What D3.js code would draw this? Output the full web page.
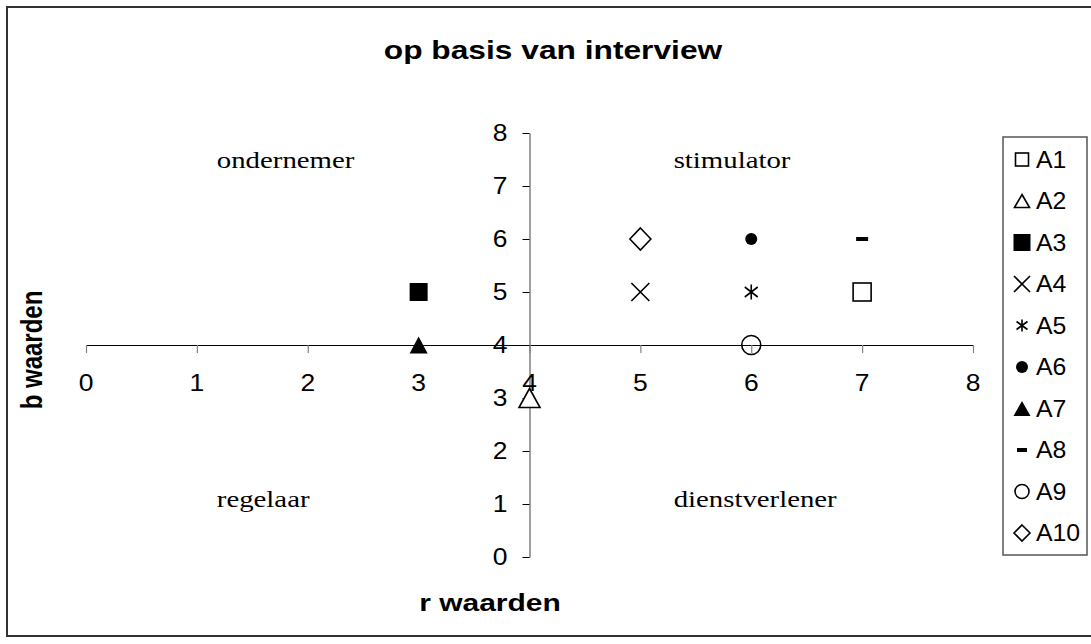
<!DOCTYPE html>
<html>
<head>
<meta charset="utf-8">
<script src="https://cdn.jsdelivr.net/npm/d3@7"></script>
<style>
  html, body { margin: 0; padding: 0; background: #fff; }
  svg { display: block; }
</style>
</head>
<body>
<svg id="chart" width="1091" height="644"></svg>
<script>
// ---- data ----
const seriesNames = ["A1", "A2", "A3", "A4", "A5", "A6", "A7", "A8", "A9", "A10"];
const rValues = [7, 4, 3, 5, 6, 6, 3, 7, 6, 5];
const bValues = [5, 3, 5, 5, 5, 6, 4, 6, 4, 6];
const xTicks = [0, 1, 2, 3, 4, 5, 6, 7, 8];
const yTicks = [0, 1, 2, 3, 4, 5, 6, 7, 8];
const quadrantNames = ["ondernemer", "stimulator", "regelaar", "dienstverlener"];
const titleText = "op basis van interview";
const xTitle = "r waarden";
const yTitle = "b waarden";

// ---- styles / layout ----
const markerTypes = ["squareOpen", "triangleOpen", "squareFilled", "x", "asterisk",
                     "dot", "triangleFilled", "dash", "circleOpen", "diamondOpen"];
const plotSizes = {
  squareOpen: [18, 18], triangleOpen: [21, 19], squareFilled: [18, 18], x: [18, 18],
  asterisk: [13, 15], dot: [12, 12], triangleFilled: [18, 17], dash: [12, 4],
  circleOpen: [19, 19], diamondOpen: [21, 22]
};
const legendSizes = {
  squareOpen: [13, 13], triangleOpen: [15, 13], squareFilled: [17, 17], x: [16, 16],
  asterisk: [11, 12], dot: [12, 12], triangleFilled: [17, 15], dash: [10, 4],
  circleOpen: [14, 14], diamondOpen: [16, 16]
};
const quadrantPos = [[1.18, 7.34], [5.3, 7.34], [1.18, 0.94], [5.3, 0.94]];
const SANS = "'Liberation Sans', Arial, sans-serif";
const SERIF = "'Liberation Serif', 'Times New Roman', serif";

const svg = d3.select("#chart");

// outer border
svg.append("rect").attr("x", 7).attr("y", 7).attr("width", 1100).attr("height", 629)
  .attr("fill", "#fff").attr("stroke", "#333").attr("stroke-width", 2);

const x = d3.scaleLinear().domain([0, 8]).range([86, 973]);
const y = d3.scaleLinear().domain([0, 8]).range([557, 133]);

function stretchedText(g, txt, px, py, opts) {
  const sx = opts.sx || 1;
  return g.append("text")
    .attr("transform", `translate(${px},${py}) scale(${sx},1)` + (opts.rotate ? ` rotate(${opts.rotate})` : ""))
    .attr("font-family", opts.family || SANS)
    .attr("font-size", opts.size)
    .attr("font-weight", opts.weight || "normal")
    .attr("text-anchor", opts.anchor || "start")
    .attr("fill", "#000")
    .text(txt);
}

// title
stretchedText(svg, titleText, 553, 59, { size: 26, weight: "bold", anchor: "middle", sx: 1.22 });

// x axis (crosses at b = 4)
const xAxisG = svg.append("g").attr("transform", `translate(0,${y(4)})`)
  .call(d3.axisBottom(x).tickValues(xTicks).tickSize(8).tickSizeOuter(0).tickFormat(""));
xAxisG.select(".domain").attr("stroke", "#000").attr("stroke-width", 1.2);
xAxisG.selectAll(".tick line").attr("stroke", "#808080").attr("stroke-width", 1.2);

// y axis (crosses at r = 4)
const yAxisG = svg.append("g").attr("transform", `translate(${x(4)},0)`)
  .call(d3.axisLeft(y).tickValues(yTicks).tickSize(7).tickSizeOuter(0).tickFormat(""));
yAxisG.select(".domain").attr("stroke", "#808080").attr("stroke-width", 1.5);
yAxisG.selectAll(".tick line").attr("stroke", "#000").attr("stroke-width", 1);

// tick labels
xTicks.forEach(v => {
  stretchedText(svg, d3.format("d")(v), x(v), y(4) + 46, { size: 23, anchor: "middle", sx: 1.15 });
});
yTicks.forEach(v => {
  stretchedText(svg, d3.format("d")(v), x(4) - 22, y(v) + 8, { size: 23, anchor: "end", sx: 1.15 });
});

// axis titles
stretchedText(svg, xTitle, 490, 611, { size: 24, weight: "bold", anchor: "middle", sx: 1.25 });
svg.append("text")
  .attr("transform", `translate(42,350) scale(1.25,1) rotate(-90)`)
  .attr("font-family", SANS).attr("font-size", 24).attr("font-weight", "bold")
  .attr("text-anchor", "middle").text(yTitle);

// quadrant labels
quadrantNames.forEach((name, i) => {
  stretchedText(svg, name, x(quadrantPos[i][0]), y(quadrantPos[i][1]),
    { size: 24, family: SERIF, sx: 1.2 });
});

// marker drawing
function drawMarker(g, type, size) {
  const [w, h] = size;
  const sw = 1.6;
  switch (type) {
    case "squareOpen":
      g.append("rect").attr("x", -w / 2).attr("y", -h / 2).attr("width", w).attr("height", h)
        .attr("fill", "#fff").attr("stroke", "#000").attr("stroke-width", sw);
      break;
    case "squareFilled":
      g.append("rect").attr("x", -w / 2).attr("y", -h / 2).attr("width", w).attr("height", h)
        .attr("fill", "#000");
      break;
    case "triangleOpen":
      g.append("path").attr("d", `M0,${-h / 2}L${w / 2},${h / 2}L${-w / 2},${h / 2}Z`)
        .attr("fill", "#fff").attr("stroke", "#000").attr("stroke-width", sw);
      break;
    case "triangleFilled":
      g.append("path").attr("d", `M0,${-h / 2}L${w / 2},${h / 2}L${-w / 2},${h / 2}Z`)
        .attr("fill", "#000");
      break;
    case "x":
      g.append("path").attr("d", `M${-w / 2},${-h / 2}L${w / 2},${h / 2}M${w / 2},${-h / 2}L${-w / 2},${h / 2}`)
        .attr("stroke", "#000").attr("stroke-width", sw).attr("fill", "none");
      break;
    case "asterisk":
      g.append("path").attr("d", `M0,${-h / 2}L0,${h / 2}M${-w / 2},${-h / 3}L${w / 2},${h / 3}M${w / 2},${-h / 3}L${-w / 2},${h / 3}`)
        .attr("stroke", "#000").attr("stroke-width", sw).attr("fill", "none");
      break;
    case "dot":
      g.append("circle").attr("r", w / 2).attr("fill", "#000");
      break;
    case "dash":
      g.append("rect").attr("x", -w / 2).attr("y", -h / 2).attr("width", w).attr("height", h)
        .attr("fill", "#000");
      break;
    case "circleOpen":
      g.append("circle").attr("r", w / 2).attr("fill", "none")
        .attr("stroke", "#000").attr("stroke-width", sw);
      break;
    case "diamondOpen":
      g.append("path").attr("d", `M0,${-h / 2}L${w / 2},0L0,${h / 2}L${-w / 2},0Z`)
        .attr("fill", "#fff").attr("stroke", "#000").attr("stroke-width", sw);
      break;
  }
}

// points
const points = svg.append("g");
seriesNames.forEach((name, i) => {
  const g = points.append("g").attr("transform", `translate(${x(rValues[i])},${y(bValues[i])})`);
  drawMarker(g, markerTypes[i], plotSizes[markerTypes[i]]);
});

// legend
const legend = svg.append("g");
legend.append("rect").attr("x", 1003).attr("y", 137).attr("width", 84).attr("height", 418)
  .attr("fill", "#fff").attr("stroke", "#555").attr("stroke-width", 1.5);
seriesNames.forEach((name, i) => {
  const cy = 159.5 + i * 41.5;
  const g = legend.append("g").attr("transform", `translate(1022,${cy})`);
  drawMarker(g, markerTypes[i], legendSizes[markerTypes[i]]);
  stretchedText(legend, name, 1036, cy + 8, { size: 23, sx: 1.08 });
});
</script>
</body>
</html>
